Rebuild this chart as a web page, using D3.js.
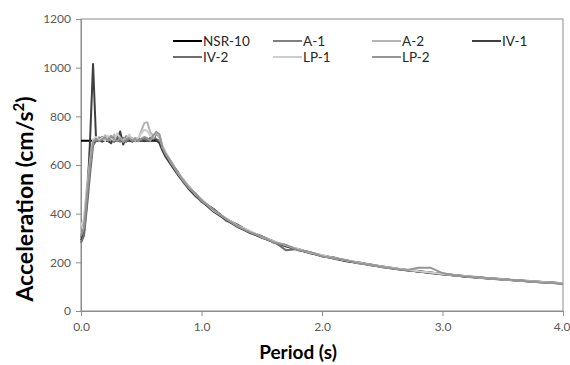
<!DOCTYPE html>
<html><head><meta charset="utf-8">
<script src="https://cdn.jsdelivr.net/npm/d3@7"></script>
<style>body{margin:0;background:#fff}svg{display:block}</style>
</head><body>
<svg id="c" width="570" height="365"></svg>
<script>
const periods = [0,0.025,0.05,0.075,0.1,0.125,0.15,0.175,0.2,0.225,0.25,0.275,0.3,0.325,0.35,0.375,0.4,0.425,0.45,0.475,0.5,0.525,0.55,0.575,0.6,0.625,0.65,0.675,0.7,0.75,0.8,0.85,0.9,0.95,1.0,1.1,1.2,1.3,1.4,1.5,1.6,1.7,1.8,1.9,2.0,2.1,2.2,2.3,2.4,2.5,2.6,2.7,2.8,2.9,3.0,3.1,3.2,3.3,3.4,3.5,3.6,3.7,3.8,3.9,4.0];

const nsrPeriods = [0,0.65,0.7,0.8,0.9,1.0,1.2,1.4,1.6,1.8,2.0,2.25,2.5,2.75,3.0,3.25,3.5,3.75,4.0];
const nsrValues  = [700,700,650,569,506,455,379,325,284,253,228,202,182,165,152,140,130,121,114];

const a1 = [300,340,470,590,690,712,705,698,710,702,715,700,708,695,712,703,698,710,702,706,699,712,704,700,718,706,700,668,640,600,566,528,500,476,448,418,372,352,320,306,280,270,250,242,224,219,205,200,188,184,173,170,161,158,150,148,140,139,132,131,125,123,118,116,112];
const a2 = [340,370,520,640,700,705,715,700,722,710,698,725,705,715,700,720,708,702,712,705,740,772,776,735,720,730,712,675,652,612,572,540,505,482,458,410,383,346,328,300,287,265,256,236,230,214,209,196,192,180,177,166,165,155,154,145,143,136,135,128,127,121,121,115,113];
const iv1 = [290,320,450,700,1015,705,700,696,704,698,690,712,700,738,684,715,700,696,705,700,702,698,706,700,710,702,690,660,635,598,562,532,498,472,452,408,376,345,322,302,283,266,252,238,226,216,204,197,189,181,174,167,162,156,151,146,141,137,133,129,126,122,119,116,113];
const iv2 = [280,310,430,560,680,700,708,715,700,712,705,695,718,700,705,695,710,702,698,708,703,710,700,712,705,728,722,680,645,605,575,530,510,478,450,420,378,355,326,308,286,250,255,241,227,220,206,200,191,183,176,168,164,158,153,148,143,138,134,131,126,124,120,117,113];
const lp1 = [350,380,500,620,705,715,702,712,698,720,708,702,730,712,700,710,725,705,700,712,730,745,740,720,712,735,718,678,655,608,570,538,508,480,460,412,382,350,330,304,286,270,255,240,229,218,208,199,190,183,176,170,163,158,152,147,143,138,134,130,126,123,120,117,114];
const lp2 = [310,345,480,600,695,708,698,705,712,700,720,706,698,710,695,706,712,700,706,698,708,715,710,700,722,736,726,672,648,610,568,536,503,484,455,415,380,348,324,305,282,272,251,243,225,217,210,196,190,181,174,168,178,178,156,146,142,140,133,129,127,122,118,116,112];

const seriesNames  = ["NSR-10","A-1","A-2","IV-1","IV-2","LP-1","LP-2"];
const seriesColors = ["#000000","#7f7f7f","#b4b4b4","#3f3f3f","#6e6e6e","#cdcdcd","#969696"];

const xTicks = [0,1,2,3,4];
const yTicks = [0,200,400,600,800,1000,1200];

const FONT = "Lato, 'Open Sans', sans-serif";
const svg = d3.select("#c");
const L=81, R=563, T=19, B=311;
const x = d3.scaleLinear().domain([0,4]).range([L,R]);
const y = d3.scaleLinear().domain([0,1200]).range([B,T]);

svg.append("rect").attr("x",L).attr("y",T).attr("width",R-L).attr("height",B-T)
  .attr("fill","none").attr("stroke","#8c8c8c").attr("stroke-width",1);

const xAxis = svg.append("g").attr("transform",`translate(0,${B})`)
  .call(d3.axisBottom(x).tickValues(xTicks).tickFormat(d3.format(".1f")).tickSize(5).tickPadding(6));
const yAxis = svg.append("g").attr("transform",`translate(${L},0)`)
  .call(d3.axisLeft(y).tickValues(yTicks).tickFormat(d3.format("d")).tickSize(5).tickPadding(5));
[xAxis,yAxis].forEach(g=>{
  g.select(".domain").attr("stroke","#8c8c8c");
  g.selectAll(".tick line").attr("stroke","#8c8c8c");
  g.selectAll(".tick text").attr("fill","#595959").style("font-family",FONT).style("font-size","12px");
});
// keep the last x label inside the page
xAxis.selectAll(".tick text").filter(d=>d===4).attr("text-anchor","end").attr("dx","7");

const line = d3.line().x(d=>x(d[0])).y(d=>y(d[1]));
const recs = [a1,a2,iv1,iv2,lp1,lp2];
const data = [nsrPeriods.map((p,i)=>[p,nsrValues[i]])].concat(recs.map(v=>periods.map((p,i)=>[p,v[i]])));
data.forEach((d,i)=>{
  svg.append("path").datum(d).attr("d",line).attr("fill","none")
    .attr("stroke",seriesColors[i]).attr("stroke-width",2).attr("stroke-linejoin","round");
});

const legX = [173,273,372,472], legY=[41,57];
seriesNames.forEach((n,i)=>{
  const cx = legX[i%4], cy = legY[Math.floor(i/4)];
  svg.append("line").attr("x1",cx).attr("x2",cx+29).attr("y1",cy).attr("y2",cy)
    .attr("stroke",seriesColors[i]).attr("stroke-width",2);
  svg.append("text").attr("x",cx+30).attr("y",cy+4.8).text(n)
    .attr("fill","#262626").style("font-family",FONT).style("font-size","13.5px");
});

svg.append("text").attr("x",298).attr("y",359).attr("text-anchor","middle")
  .style("font-family",FONT).style("font-weight","bold").style("font-size","19px")
  .attr("fill","#000").text("Period (s)");
const yt = svg.append("text").attr("transform","translate(33,199) rotate(-90)").attr("text-anchor","middle")
  .style("font-family",FONT).style("font-weight","bold").style("font-size","23px").attr("fill","#000");
yt.append("tspan").text("Acceleration (cm/s");
yt.append("tspan").attr("dy",-9).style("font-size","15px").text("2");
yt.append("tspan").attr("dy",9).text(")");
</script>
</body></html>
